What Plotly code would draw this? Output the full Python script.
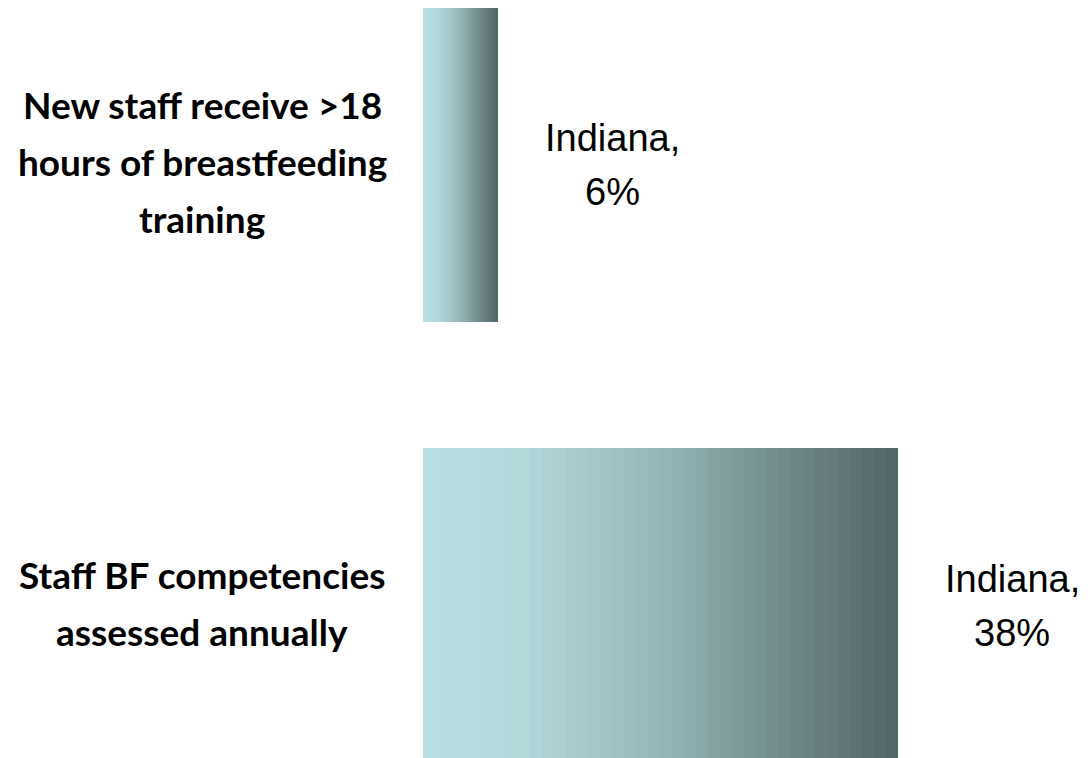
import plotly.graph_objects as go

# ---- data ----
categories = [
    "New staff receive >18<br>hours of breastfeeding<br>training",
    "Staff BF competencies<br>assessed annually",
]
series_name = "Indiana"
values = [6, 38]

# ---- style ----
N_SEG = 40
grad_stops = [
    (0.00, (185, 223, 227)),
    (0.20, (180, 217, 220)),
    (0.50, (150, 183, 184)),
    (0.75, (114, 139, 140)),
    (1.00, (82, 101, 104)),
]


def grad(t):
    for (t0, c0), (t1, c1) in zip(grad_stops[:-1], grad_stops[1:]):
        if t <= t1:
            f = (t - t0) / (t1 - t0)
            return tuple(round(c0[i] + (c1[i] - c0[i]) * f) for i in range(3))
    return grad_stops[-1][1]


fig = go.Figure()
for k in range(N_SEG):
    t = (k + 0.5) / N_SEG
    r, g, b = grad(t)
    fig.add_trace(go.Bar(
        y=categories,
        x=[v / N_SEG for v in values],
        orientation="h",
        width=0.715,
        marker=dict(color=f"rgb({r},{g},{b})", line=dict(width=0)),
        showlegend=False,
        hoverinfo="skip",
    ))

annotations = []
# category labels (one annotation per line for wide line spacing)
CAT_LS = 57
for cat in categories:
    lines = cat.split("<br>")
    n = len(lines)
    for i, ln in enumerate(lines):
        annotations.append(dict(
            xref="paper", yref="y", x=-0.3323, y=cat,
            text=ln, showarrow=False, xanchor="center", yanchor="middle",
            yshift=-(i - (n - 1) / 2) * CAT_LS + 3,
            font=dict(family="Lato", size=37, color="black", weight="bold"),
        ))

# data labels
LBL_LS = 54
for cat, v in zip(categories, values):
    lines = [f"{series_name},", f"{v}%"]
    n = len(lines)
    for i, ln in enumerate(lines):
        annotations.append(dict(
            xref="x", yref="y", x=v, y=cat,
            text=ln, showarrow=False, xanchor="center", yanchor="middle",
            xshift=114, yshift=-(i - (n - 1) / 2) * LBL_LS,
            font=dict(family="Liberation Sans", size=38, color="black"),
        ))

fig.update_layout(
    barmode="stack",
    bargap=0,
    width=1080, height=750,
    margin=dict(l=415, r=0, t=0, b=0),
    plot_bgcolor="white", paper_bgcolor="white",
    xaxis=dict(range=[0, 53.2], visible=False, showgrid=False, zeroline=False),
    yaxis=dict(type="category", range=[1.3454, -0.3553], visible=False,
               showgrid=False, zeroline=False),
    annotations=annotations,
)

fig.write_html("out.html")
